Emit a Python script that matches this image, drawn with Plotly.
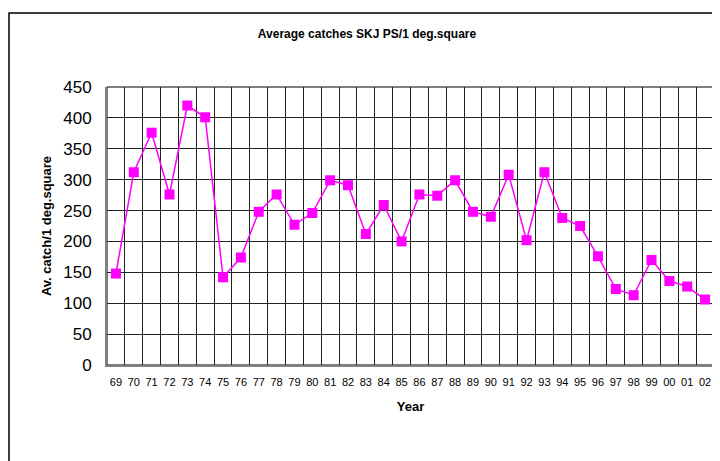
import plotly.graph_objects as go

years = ["69","70","71","72","73","74","75","76","77","78","79","80","81","82","83","84","85",
         "86","87","88","89","90","91","92","93","94","95","96","97","98","99","00","01","02"]
catch = [148, 312, 376, 276, 420, 401, 142, 174, 248, 276, 227, 246, 299, 291, 212, 259, 200,
         276, 274, 299, 248, 240, 308, 202, 312, 238, 225, 176, 123, 113, 170, 136, 127, 106]
y_ticks = [0, 50, 100, 150, 200, 250, 300, 350, 400, 450]

idx = list(range(len(years)))
bounds = [i - 0.5 for i in range(len(years) + 1)]

# page body has an 8px margin; build the figure in page coordinates minus 8px
OFF = 8
W, H = 720 - OFF, 461 - OFF
L, T = 107 - OFF, 87 - OFF
pw, ph = 607, 278
R, B = W - L - pw, H - T - ph

fig = go.Figure()
fig.add_trace(go.Scatter(
    x=idx, y=catch, mode="lines+markers",
    line=dict(color="#FF00FF", width=1.5),
    marker=dict(symbol="square", size=10, color="#FF00FF"),
    showlegend=False, cliponaxis=False,
))

fig.update_layout(
    width=W, height=H,
    margin=dict(l=L, r=R, t=T, b=B, autoexpand=False),
    paper_bgcolor="white", plot_bgcolor="white",
    font=dict(family="Liberation Sans, Arial, sans-serif", color="black"),
    title=dict(text="<b>Average catches SKJ PS/1 deg.square</b>",
               font=dict(size=12), x=(367 - OFF) / W, xanchor="center",
               y=1 - (34 - OFF) / H, yanchor="middle", xref="container", yref="container"),
    xaxis=dict(
        range=[-0.5, len(years) - 0.5], automargin=False,
        tickmode="array", tickvals=idx, ticktext=years,
        tickfont=dict(size=11), ticks="", showgrid=False, ticklabelstandoff=6,
        minor=dict(tickmode="array", tickvals=bounds, showgrid=True,
                   gridcolor="#222222", gridwidth=1, ticks=""),
        showline=True, linecolor="#808080", linewidth=2,
        title=dict(text="<b>Year</b>", font=dict(size=13), standoff=15),
        zeroline=False,
    ),
    yaxis=dict(
        range=[0, 450], automargin=False, tickmode="array", tickvals=y_ticks,
        tickfont=dict(size=17), ticks="", ticklabelstandoff=10,
        showgrid=True, gridcolor="#222222", gridwidth=1,
        showline=True, linecolor="#808080", linewidth=2,
        title=dict(text="<b>Av. catch/1 deg.square</b>", font=dict(size=13), standoff=9),
        zeroline=False,
    ),
    shapes=[
        dict(type="rect", xref="paper", yref="paper", x0=0, x1=1, y0=0, y1=1,
             line=dict(color="black", width=1), layer="below"),
        dict(type="rect", xref="paper", yref="paper",
             x0=(1 - L) / pw, x1=(W + 20 - L) / pw,
             y0=-(B + 20) / ph, y1=(H - 5 - B) / ph,
             line=dict(color="black", width=1.5), layer="below"),
    ],
)

fig.write_html("out.html")
